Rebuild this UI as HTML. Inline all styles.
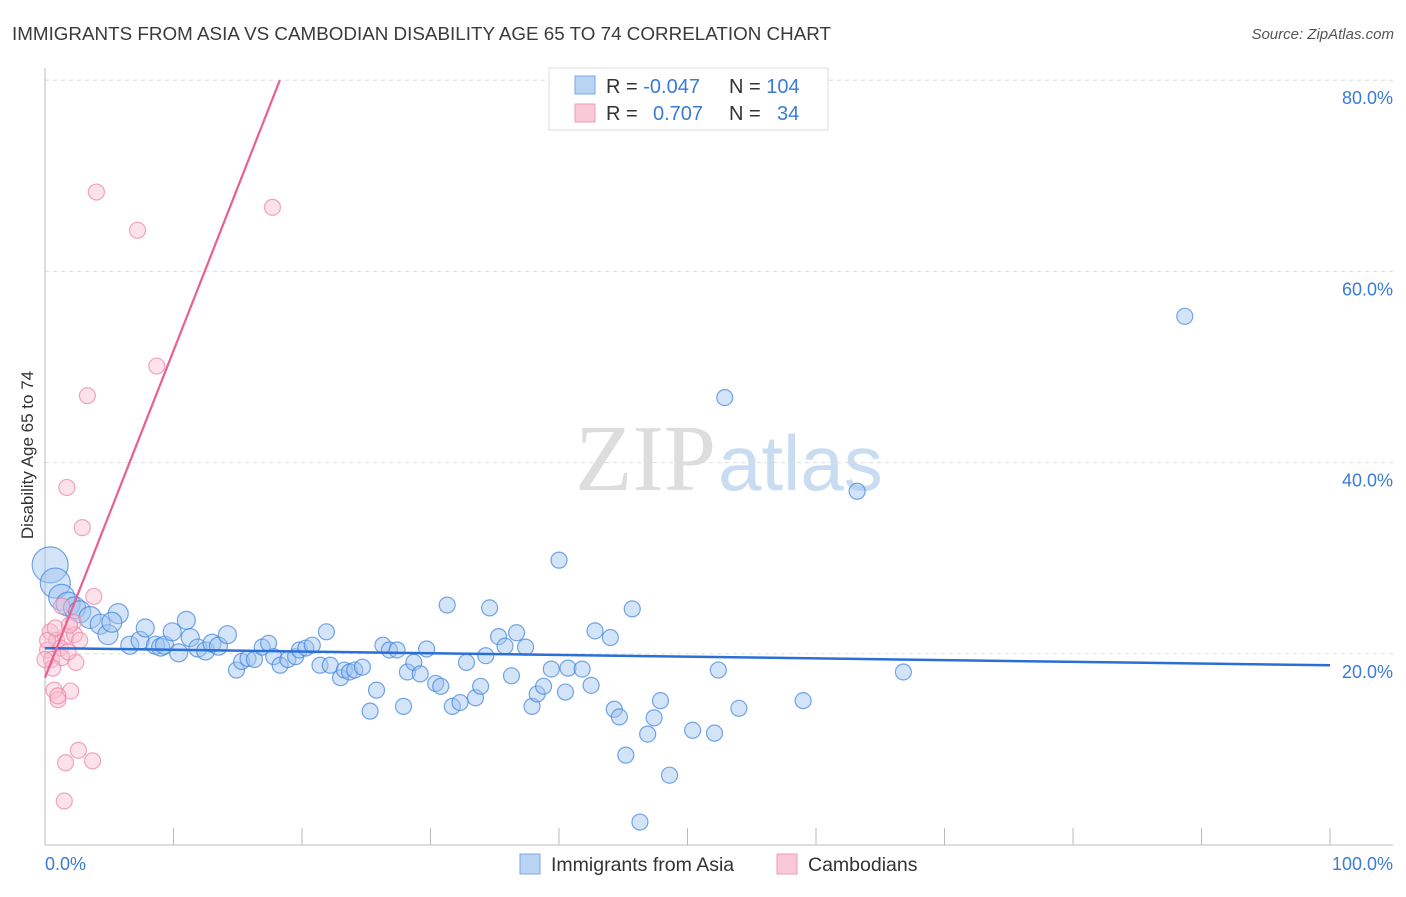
<!DOCTYPE html>
<html><head><meta charset="utf-8"><style>
body{margin:0;background:#fff;font-family:"Liberation Sans",sans-serif}
</style></head><body>
<svg width="1406" height="892" xmlns="http://www.w3.org/2000/svg" font-family="Liberation Sans, sans-serif">
<text x="12" y="40" font-size="18.8" fill="#3a3a3a" textLength="819">IMMIGRANTS FROM ASIA VS CAMBODIAN DISABILITY AGE 65 TO 74 CORRELATION CHART</text>
<text x="1394" y="39" font-size="15" fill="#555" font-style="italic" text-anchor="end">Source: ZipAtlas.com</text>
<text x="716" y="490" font-size="94" fill="#ddd" text-anchor="end" font-family="Liberation Serif, serif">ZIP</text>
<text x="718" y="490" font-size="78" fill="#c9dcf2">atlas</text>
<g id="grid"></g>
<line x1="45" y1="68" x2="45" y2="845" stroke="#bbb"/>
<line x1="45" y1="845" x2="1393" y2="845" stroke="#bbb"/>
<g id="xticks"></g>
<text x="27" y="455" font-size="17" fill="#333" text-anchor="middle" transform="rotate(-90 27 455)" dy="6">Disability Age 65 to 74</text>
<text x="45" y="870" font-size="18" fill="#3a7bd5">0.0%</text>
<text x="1393" y="870" font-size="18" fill="#3a7bd5" text-anchor="end">100.0%</text>
<g id="pts"></g>
<g id="lines"></g>
<g>
<rect x="549" y="68" width="279" height="62" fill="#fff" stroke="#ddd"/>
<rect x="575" y="76" width="20" height="18" fill="#b9d3f3" stroke="#7aaae6"/>
<rect x="575" y="104" width="20" height="18" fill="#f9c9d7" stroke="#f09ab5"/>
<text x="606" y="93" font-size="20" fill="#333">R = <tspan fill="#3a7bd5">-0.047</tspan><tspan x="729">N = </tspan><tspan fill="#3a7bd5">104</tspan></text>
<text x="606" y="120" font-size="20" fill="#333">R = <tspan x="653" fill="#3a7bd5">0.707</tspan><tspan x="729">N = </tspan><tspan x="777" fill="#3a7bd5">34</tspan></text>
</g>
<g>
<rect x="520" y="854" width="20" height="20" fill="#b9d3f3" stroke="#7aaae6"/>
<text x="551" y="871" font-size="19.5" fill="#333">Immigrants from Asia</text>
<rect x="777" y="854" width="20" height="20" fill="#f9c9d7" stroke="#f09ab5"/>
<text x="808" y="871" font-size="19.5" fill="#333">Cambodians</text>
</g>
</svg>
<script>
const yTicks=[20,40,60,80];
const xTicks=[0,10,20,30,40,50,60,70,80,90,100];
const blueX=[0.4,0.8,1.3,1.8,2.3,2.7,3.5,4.3,4.9,5.7,5.2,6.6,7.4,7.8,8.6,9.0,9.3,9.9,10.4,11.0,11.3,11.9,12.5,13.0,13.5,14.2,14.9,15.3,15.8,16.3,16.9,17.4,17.8,18.3,18.9,19.5,19.8,20.3,20.8,21.4,21.9,22.2,23.0,23.3,23.7,24.1,24.7,25.3,25.8,26.3,26.8,27.4,27.9,28.2,28.7,29.2,29.7,30.4,30.8,31.3,31.7,32.3,32.8,33.5,33.9,34.3,34.6,35.3,35.8,36.3,36.7,37.4,37.9,38.3,38.8,39.4,40.0,40.5,40.7,41.8,42.5,42.8,44.0,44.3,44.7,45.2,45.7,46.3,46.9,47.4,47.9,48.6,50.4,52.1,52.4,52.9,54.0,59.0,63.2,66.8,88.7];
const blueY=[29.3,27.4,25.9,25.2,24.8,24.4,23.8,23.1,22.0,24.2,23.3,20.9,21.4,22.7,20.9,20.7,20.9,22.3,20.1,23.5,21.7,20.6,20.3,21.1,20.8,22.0,18.3,19.2,19.5,19.4,20.7,21.1,19.7,18.8,19.4,19.7,20.4,20.6,20.9,18.8,22.3,18.8,17.5,18.3,18.1,18.3,18.6,14.0,16.2,20.9,20.4,20.4,14.5,18.1,19.1,17.9,20.5,16.9,16.6,25.1,14.5,14.9,19.1,15.4,16.6,19.8,24.8,21.8,20.8,17.7,22.2,20.7,14.5,15.8,16.6,18.4,29.8,16.0,18.5,18.4,16.7,22.4,21.7,14.2,13.4,9.4,24.7,2.4,11.6,13.3,15.1,7.3,12.0,11.7,18.3,46.8,14.3,15.1,37.0,18.1,55.3];
const blueR=[18,15,13,12,11,11,11,10,10,10,10,9,9,9,9,9,9,9,9,9,9,9,9,9,9,9,8,8,8,8,8,8,8,8,8,8,8,8,8,8,8,8,8,8,8,8,8,8,8,8,8,8,8,8,8,8,8,8,8,8,8,8,8,8,8,8,8,8,8,8,8,8,8,8,8,8,8,8,8,8,8,8,8,8,8,8,8,8,8,8,8,8,8,8,8,8,8,8,8,8,8];
const pinkX=[4.0,7.2,17.7,8.7,3.3,1.7,2.9,3.8,1.3,2.2,0.4,0.9,1.6,2.3,0.2,1.2,0.5,1.3,2.4,0.6,0.7,2.0,1.0,1.0,2.6,1.6,3.7,1.5,0.2,0.8,1.8,0.0,2.7,1.9];
const pinkY=[68.3,64.3,66.7,50.1,47.0,37.4,33.2,26.0,25.0,23.3,22.3,21.4,21.8,22.0,20.4,20.6,19.4,19.6,19.1,18.5,16.2,16.1,15.2,15.6,9.9,8.6,8.8,4.6,21.4,22.7,20.2,19.4,21.4,23.0];
const blueTrend=[20.6,18.8];
const pinkTrend=[17.5,3.42];
const X=v=>45+v*12.85, Y=v=>845-v*9.56;
const NS='http://www.w3.org/2000/svg';
function mk(t,a,p){const e=document.createElementNS(NS,t);for(const k in a)e.setAttribute(k,a[k]);p.appendChild(e);return e;}
const grid=document.getElementById('grid');
yTicks.forEach(t=>{
 const l=mk('line',{x1:45,x2:1393,y1:Y(t),y2:Y(t),stroke:'#ddd','stroke-dasharray':'4,4'},grid);
 
 
 const tx=mk('text',{x:1393,y:Y(t)+24,'font-size':18,fill:'#3a7bd5','text-anchor':'end'},grid);
 tx.textContent=t.toFixed(1)+'%';
 
 
});
const xt=document.getElementById('xticks');
xTicks.forEach(t=>{
 const l=mk('line',{x1:X(t),x2:X(t),y1:828,y2:845,stroke:'#bbb'},xt);
 
 
});
const pts=document.getElementById('pts');
blueX.forEach((x,i)=>{
 const c=mk('circle',{cx:X(x),cy:Y(blueY[i]),r:blueR[i]||8,fill:'rgba(160,196,240,0.45)',stroke:'rgba(60,130,220,0.7)','stroke-width':1.2},pts);
 
 
});
pinkX.forEach((x,i)=>{
 const c=mk('circle',{cx:X(x),cy:Y(pinkY[i]),r:8,fill:'rgba(248,190,208,0.45)',stroke:'rgba(235,130,165,0.7)','stroke-width':1.2},pts);
 
 
});
const ln=document.getElementById('lines');
const b=mk('line',{x1:X(0),y1:Y(blueTrend[0]),x2:X(100),y2:Y(blueTrend[1]),stroke:'#2a6fd6','stroke-width':2.5},ln);


const xe=(80-pinkTrend[0])/pinkTrend[1];
const p=mk('line',{x1:X(0),y1:Y(pinkTrend[0]),x2:X(xe),y2:Y(80),stroke:'#e8608e','stroke-width':2.2},ln);


</script>
</body></html>
